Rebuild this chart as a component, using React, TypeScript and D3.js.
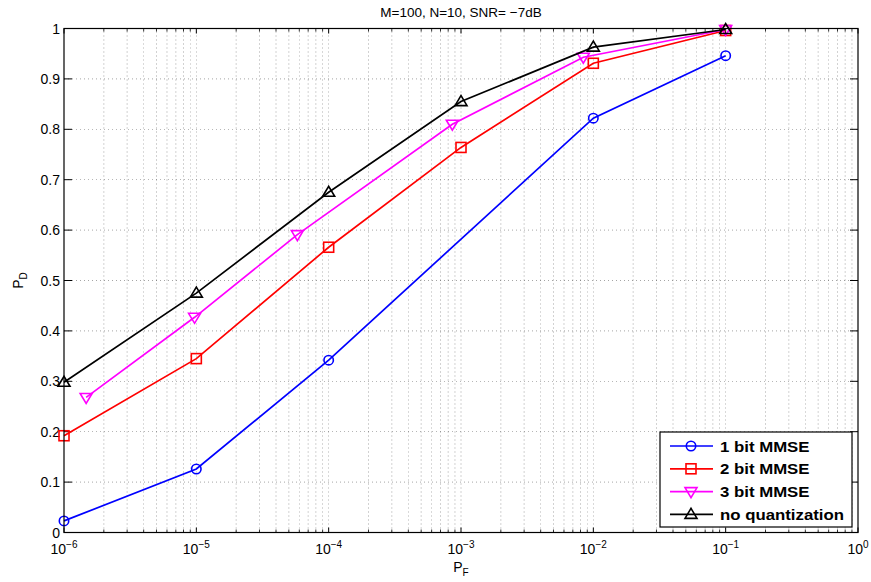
import React from "react";
import * as d3 from "d3";

// Detection probability vs. false-alarm probability
const oneBitPF = [1e-6, 1e-5, 1e-4, 1e-2, 1e-1];
const oneBitPD = [0.023, 0.126, 0.342, 0.822, 0.946];

const twoBitPF = [1e-6, 1e-5, 1e-4, 1e-3, 1e-2, 1e-1];
const twoBitPD = [0.192, 0.345, 0.566, 0.764, 0.931, 0.996];

const threeBitPF = [1.47e-6, 9.7e-6, 5.8e-5, 8.6e-4, 8.4e-3, 1e-1];
const threeBitPD = [0.268, 0.427, 0.591, 0.81, 0.943, 0.998];

const noQuantPF = [1e-6, 1e-5, 1e-4, 1e-3, 1e-2, 1e-1];
const noQuantPD = [0.298, 0.475, 0.675, 0.855, 0.963, 0.998];

const seriesNames = ["1 bit MMSE", "2 bit MMSE", "3 bit MMSE", "no quantization"];
const seriesColors = ["#0000ff", "#ff0000", "#ff00ff", "#000000"];
const seriesMarkers = ["circle", "square", "triangleDown", "triangleUp"];

const xExponents = [-6, -5, -4, -3, -2, -1, 0];
const yTicks = [0, 0.1, 0.2, 0.3, 0.4, 0.5, 0.6, 0.7, 0.8, 0.9, 1];

const titleText = "M=100, N=10, SNR= \u22127dB";

const W = 871;
const H = 582;
const margin = { left: 64, right: 13, top: 28.5, bottom: 49.5 };

function Marker({ kind, x, y, color }: { kind: string; x: number; y: number; color: string }) {
  const common = { fill: "none", stroke: color, strokeWidth: 1.6 };
  if (kind === "circle") return <circle cx={x} cy={y} r={4.7} {...common} />;
  if (kind === "square") return <rect x={x - 5} y={y - 5} width={10} height={10} {...common} />;
  if (kind === "triangleDown")
    return <path d={`M${x - 6},${y - 4} L${x + 6},${y - 4} L${x},${y + 6} Z`} {...common} />;
  return <path d={`M${x - 6},${y + 4} L${x + 6},${y + 4} L${x},${y - 6} Z`} {...common} />;
}

export default function App() {
  const x = d3
    .scaleLog()
    .domain([1e-6, 1])
    .range([margin.left, W - margin.right]);
  const y = d3
    .scaleLinear()
    .domain([0, 1])
    .range([H - margin.bottom, margin.top]);

  const x0 = x.range()[0];
  const x1 = x.range()[1];
  const y0 = y.range()[0];
  const y1 = y.range()[1];

  const series = [
    { pf: oneBitPF, pd: oneBitPD },
    { pf: twoBitPF, pd: twoBitPD },
    { pf: threeBitPF, pd: threeBitPD },
    { pf: noQuantPF, pd: noQuantPD },
  ];

  const line = d3
    .line<[number, number]>()
    .x((d) => x(d[0]))
    .y((d) => y(d[1]));

  // minor log positions 2..9 in each decade
  const minor: number[] = [];
  for (let e = -6; e < 0; e++) {
    for (let m = 2; m <= 9; m++) minor.push(m * Math.pow(10, e));
  }
  const major = xExponents.map((e) => Math.pow(10, e));

  const gridStyle = { stroke: "#000", strokeWidth: 0.5, strokeDasharray: "1 3", opacity: 0.7 };
  const font = "'Liberation Sans', Arial, Helvetica, sans-serif";

  const legend = { x: 660, y: 432, w: 192, h: 95 };
  const rowH = 22.8;

  return (
    <svg width={W} height={H} style={{ display: "block", position: "absolute", left: 0, top: 0 }} fontFamily={font}>
      <rect width={W} height={H} fill="#fff" />
      {/* grid */}
      {minor.concat(major.slice(1, -1)).map((v, i) => (
        <line key={"gx" + i} x1={x(v)} x2={x(v)} y1={y0} y2={y1} {...gridStyle} />
      ))}
      {yTicks.slice(1, -1).map((v, i) => (
        <line key={"gy" + i} x1={x0} x2={x1} y1={y(v)} y2={y(v)} {...gridStyle} />
      ))}
      {/* ticks */}
      {major.map((v, i) => (
        <g key={"tx" + i} stroke="#000" strokeWidth={1}>
          <line x1={x(v)} x2={x(v)} y1={y0} y2={y0 - 5} />
          <line x1={x(v)} x2={x(v)} y1={y1} y2={y1 + 5} />
        </g>
      ))}
      {minor.map((v, i) => (
        <g key={"mx" + i} stroke="#000" strokeWidth={0.8}>
          <line x1={x(v)} x2={x(v)} y1={y0} y2={y0 - 3} />
          <line x1={x(v)} x2={x(v)} y1={y1} y2={y1 + 3} />
        </g>
      ))}
      {yTicks.map((v, i) => (
        <g key={"ty" + i} stroke="#000" strokeWidth={1}>
          <line x1={x0} x2={x0 + 8} y1={y(v)} y2={y(v)} />
          <line x1={x1} x2={x1 - 8} y1={y(v)} y2={y(v)} />
        </g>
      ))}
      {/* tick labels */}
      {yTicks.map((v, i) => (
        <text key={"ly" + i} x={x0 - 4} y={y(v) + 5} textAnchor="end" fontSize={14} fill="#000">
          {String(v)}
        </text>
      ))}
      {xExponents.map((e, i) => (
        <text key={"lx" + i} x={x(Math.pow(10, e))} y={y0 + 21.5} fontSize={14} fill="#000" textAnchor="middle">
          10
          <tspan dy={-6.5} fontSize={10}>
            {e === 0 ? "0" : "\u2212" + Math.abs(e)}
          </tspan>
        </text>
      ))}
      {/* series */}
      {series.map((s, si) => {
        const pts = s.pf.map((p, j) => [p, s.pd[j]] as [number, number]);
        return (
          <g key={"s" + si}>
            <path d={line(pts) || ""} fill="none" stroke={seriesColors[si]} strokeWidth={1.7} />
            {pts.map((p, j) => (
              <Marker key={j} kind={seriesMarkers[si]} x={x(p[0])} y={y(p[1])} color={seriesColors[si]} />
            ))}
          </g>
        );
      })}
      {/* axes box */}
      <rect x={x0} y={y1} width={x1 - x0} height={y0 - y1} fill="none" stroke="#000" strokeWidth={1.2} />
      {/* legend */}
      <rect x={legend.x} y={legend.y} width={legend.w} height={legend.h} fill="#fff" stroke="#000" strokeWidth={1.2} />
      {seriesNames.map((name, i) => {
        const cy = legend.y + 14 + i * rowH;
        return (
          <g key={"lg" + i}>
            <line x1={legend.x + 10} x2={legend.x + 53} y1={cy} y2={cy} stroke={seriesColors[i]} strokeWidth={1.7} />
            <Marker kind={seriesMarkers[i]} x={legend.x + 31} y={cy} color={seriesColors[i]} />
            <text
              transform={`translate(${legend.x + 60}, ${cy + 5.5}) scale(1.12, 1)`}
              fontSize={15}
              fontWeight="bold"
              fill="#000"
            >
              {name}
            </text>
          </g>
        );
      })}
      {/* title and axis labels */}
      <text x={(x0 + x1) / 2} y={17} textAnchor="middle" fontSize={13.5} fill="#000">
        {titleText}
      </text>
      <text x={(x0 + x1) / 2} y={572} textAnchor="middle" fontSize={14} fill="#000">
        P<tspan dy={4} fontSize={10}>F</tspan>
      </text>
      <text transform={`translate(23, ${(y0 + y1) / 2}) rotate(-90)`} textAnchor="middle" fontSize={14} fill="#000">
        P<tspan dy={4} fontSize={10}>D</tspan>
      </text>
    </svg>
  );
}
